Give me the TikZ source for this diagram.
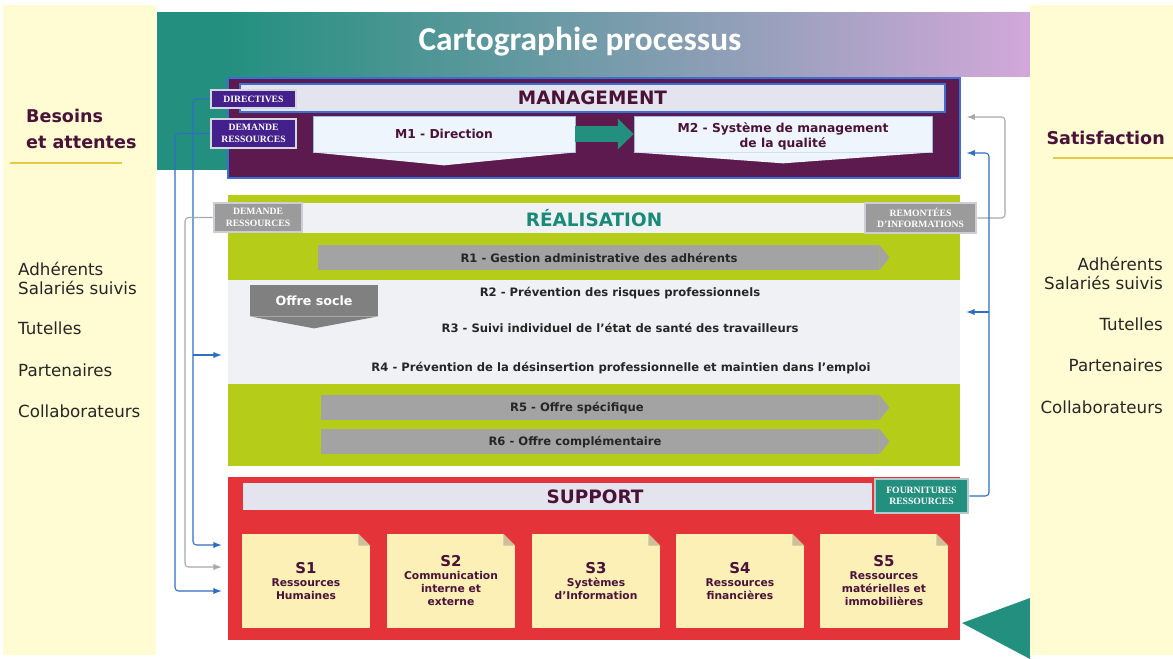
\documentclass[tikz,border=0pt]{standalone}
\usepackage{fontspec}
\setmainfont{DejaVu Sans}
\newfontfamily\titlefont{Carlito}
\newfontfamily\tagfont{Liberation Serif}
\usetikzlibrary{arrows, arrows.meta, positioning, fit, calc}

\definecolor{mgmtpurple}{HTML}{5C1A4F}
\definecolor{mgmtline}{HTML}{3B6FD4}
\definecolor{barlav}{HTML}{E4E4EE}
\definecolor{labindigo}{HTML}{43208C}
\definecolor{labframe}{HTML}{D6D6DE}
\definecolor{tealc}{HTML}{23907F}
\definecolor{tealtext}{HTML}{1A8A78}
\definecolor{lime}{HTML}{B5CD19}
\definecolor{procgrey}{HTML}{A3A3A3}
\definecolor{soclegrey}{HTML}{808080}
\definecolor{paleband}{HTML}{F0F1F5}
\definecolor{suppred}{HTML}{E5333A}
\definecolor{notecol}{HTML}{FCF0B6}
\definecolor{foldcol}{HTML}{CDBF9A}
\definecolor{sidecol}{HTML}{FFFBD2}
\definecolor{darkplum}{HTML}{4A1238}
\definecolor{lavender}{HTML}{D2A8DA}
\definecolor{flowblue}{HTML}{2F6DC4}
\definecolor{flowgrey}{HTML}{A8A8A8}
\definecolor{goldline}{HTML}{E6C84A}
\definecolor{mboxfill}{HTML}{EEF5FC}

\begin{document}
\begin{tikzpicture}[
    x = 0.02cm,
    y = -0.02cm,
    >=latex,
    mgmtbox/.style  = {fill=mgmtpurple, draw=mgmtline, line width=0.8pt, inner sep=0pt},
    headbar/.style  = {fill=barlav, draw=mgmtline, line width=0.8pt, inner sep=0pt},
    headtext/.style = {font=\bfseries\fontsize{10.5}{12}\selectfont, text=darkplum},
    tag/.style      = {draw=labframe, line width=1.5pt, fill=labindigo, inner sep=0pt},
    tagtext/.style  = {text=white, align=center, inner sep=0pt,
                       font=\tagfont\bfseries\fontsize{5.5}{6.6}\selectfont},
    greytag/.style  = {fill=procgrey!95!black, draw=labframe!90!gray},
    tealtag/.style  = {fill=tealc, draw=labframe!80!tealc},
    mproc/.style    = {fill=mboxfill, draw=mgmtline!50, line width=0.4pt, inner sep=0pt},
    mtext/.style    = {align=center, text=darkplum,
                       font=\bfseries\fontsize{7}{8.6}\selectfont},
    greenbox/.style = {fill=lime, inner sep=0pt},
    band/.style     = {fill=paleband, inner sep=0pt},
    proc/.style     = {fill=procgrey, inner sep=0pt},
    proctext/.style = {font=\bfseries\fontsize{6.6}{8}\selectfont, text=black!85},
    socle/.style    = {fill=soclegrey, inner sep=0pt},
    socletext/.style = {text=white, font=\bfseries\fontsize{7.2}{8}\selectfont},
    redbox/.style   = {fill=suppred, inner sep=0pt},
    note/.style     = {fill=notecol, inner sep=0pt},
    notetext/.style = {align=center, text=darkplum,
                       font=\bfseries\fontsize{6.1}{7.4}\selectfont},
    sidehead/.style = {font=\bfseries\fontsize{10}{14.7}\selectfont, text=darkplum},
    sidelist/.style = {font=\fontsize{9.5}{10.8}\selectfont, text=black!85},
    flow/.style     = {->, draw=flowblue, line width=0.6pt, rounded corners=2pt,
                       shorten >=3.5pt},
    backflow/.style = {flow, draw=flowgrey},
    ]

    \useasboundingbox (0,0) rectangle (1173,659);
    \fill[white] (0,0) rectangle (1173,659);

    % background: title band, side columns
    \fill[tealc] (157,12) rectangle (229,170);
    \shade[left color=tealc, right color=lavender] (228,12) rectangle (1030,76);
    \fill[tealc] (962,623) -- (1030,598) -- (1030,659) -- cycle;
    \fill[sidecol] (3,5) rectangle (156,655);
    \fill[sidecol] (1030,5) rectangle (1173,655);
    \draw[goldline, line width=1pt] (10,163) -- (122,163);
    \draw[goldline, line width=1pt] (1053,158) -- (1173,158);

    \node[font=\titlefont\bfseries\fontsize{19}{22}\selectfont, text=white] (title) at (580,42) {Cartographie processus};

    % left column
    \node[sidehead, anchor=west, align=left] (needs) at (20,129) {Besoins\\et attentes};
    \node[sidelist, anchor=west, align=left] (adhL) at (12,278) {Adhérents\\Salariés suivis};
    \node[sidelist, anchor=west] (tutL) at (12,328) {Tutelles};
    \node[sidelist, anchor=west] (parL) at (12,370) {Partenaires};
    \node[sidelist, anchor=west] (colL) at (12,411) {Collaborateurs};

    % right column
    \node[sidehead, anchor=east] (satisf) at (1171,138) {Satisfaction};
    \node[sidelist, anchor=east, align=right] (adhR) at (1169,273) {Adhérents\\Salariés suivis};
    \node[sidelist, anchor=east] (tutR) at (1169,324) {Tutelles};
    \node[sidelist, anchor=east] (parR) at (1169,365) {Partenaires};
    \node[sidelist, anchor=east] (colR) at (1169,407) {Collaborateurs};

    % management
    \node[mgmtbox, fit={(228,78) (960,178)}] (mgmt) {};
    \node[headbar, fit={(240,84) (945,112)}] (mgmthead) {};
    \node[headtext] (mgmttitle) at (mgmthead) {MANAGEMENT};
    \node[tag, fit={(211,90) (296,108)}] (dir) {};
    \node[tagtext] (dirtxt) at (dir) {DIRECTIVES};
    \node[tag, fit={(211,119) (296,148)}] (dem) {};
    \node[tagtext] (demtxt) at (dem) {DEMANDE\\RESSOURCES};

    \node[mproc, fit={(313,116) (575,152)}] (m1) {};
    \fill[mboxfill] (m1.south west) -- ($(m1.south)+(0,13)$) -- (m1.south east) -- cycle;
    \node[mtext] (m1txt) at (m1) {M1 - Direction};
    \node[mproc, fit={(634,116) (932,152)}] (m2) {};
    \fill[mboxfill] (m2.south west) -- ($(m2.south)+(0,11)$) -- (m2.south east) -- cycle;
    \node[mtext] (m2txt) at ($(m2)+(0,2)$) {M2 - Système de management\\de la qualité};
    \draw[tealc, line width=9pt, -{Triangle[length=9pt, width=17pt]}] (m1.east) -- (m2.west);

    % realisation
    \node[greenbox, fit={(228,195) (960,466)}] (real) {};
    \node[band, fit={(228,203) (960,233)}] (realhead) {};
    \node[headtext, text=tealtext] (realtitle) at (realhead) {RÉALISATION};
    \node[band, fit={(228,280) (960,384)}] (socleband) {};
    \node[tag, greytag, fit={(214,203) (302,232)}] (demR) {};
    \node[tagtext] (demRtxt) at (demR) {DEMANDE\\RESSOURCES};
    \node[tag, greytag, fit={(865,203) (976,233)}] (rem) {};
    \node[tagtext] (remtxt) at (rem) {REMONTÉES\\D’INFORMATIONS};

    \foreach \n/\ya/\xl/\xt/\txt in {1/245/318/599/{R1 - Gestion administrative des adhérents},
                                      5/395/321/577/{R5 - Offre spécifique},
                                      6/429/321/575/{R6 - Offre complémentaire}}
    {
        \node[proc, fit={(\xl,\ya) (879,\ya+25)}] (r\n) {};
        \fill[procgrey] (r\n.north east) -- ($(r\n.east)+(10,0)$) -- (r\n.south east) -- cycle;
        \node[proctext] (rtxt\n) at (\xt,\ya+13) {\txt};
    }
    \node[proctext] (r2) at (620,293) {R2 - Prévention des risques professionnels};
    \node[proctext] (r3) at (620,328) {R3 - Suivi individuel de l’état de santé des travailleurs};
    \node[proctext] (r4) at (621,368) {R4 - Prévention de la désinsertion professionnelle et maintien dans l’emploi};

    \node[socle, fit={(250,285) (378,316)}] (socle) {};
    \fill[soclegrey] (socle.south west) -- ($(socle.south)+(0,12)$) -- (socle.south east) -- cycle;
    \node[socletext] (socletxt) at (socle) {Offre socle};

    % support
    \node[redbox, fit={(228,477) (960,640)}] (supp) {};
    \node[band, fill=barlav, fit={(243,483) (872,510)}] (supphead) {};
    \node[headtext] (supptitle) at (595,497) {SUPPORT};
    \node[tag, tealtag, fit={(875,479) (968,513)}] (fourn) {};
    \node[tagtext] (fourntxt) at (fourn) {FOURNITURES\\RESSOURCES};

    \foreach \i/\x/\txt in {1/242/{Ressources\\Humaines},
                            2/387/{Communication\\interne et\\externe},
                            3/532/{Systèmes\\d’Information},
                            4/676/{Ressources\\financières},
                            5/820/{Ressources\\matérielles et\\immobilières}}
    {
        \node[note, fit={(\x,534) (\x+128,628)}] (s\i) {};
        \fill[suppred] (s\i.north east) -- ++(-12,0) -- ++(12,12) -- cycle;
        \fill[foldcol] (s\i.north east) ++(-12,0) -- ++(0,12) -- ++(12,0) -- cycle;
        \node[notetext] (stxt\i) at (s\i) {{\fontsize{8.5}{9.5}\selectfont S\i}\\\txt};
    }

    % flows on the left
    \coordinate (dirbend) at (193,545);
    \coordinate (dirsplit) at (193,355);
    \coordinate (dembend) at (175,591);
    \coordinate (demRbend) at (185,567);
    \draw[flow] (dir.west) -| (dirbend) -- (supp.west |- dirbend);
    \draw[flow] (dirsplit) -- (real.west |- dirsplit);
    \draw[flow] (dem.west) -| (dembend) -- (supp.west |- dembend);
    \draw[backflow] (demR.west) -| (demRbend) -- (supp.west |- demRbend);

    % flows on the right
    \coordinate (rembend) at (1005,117);
    \coordinate (fournbend) at (989,153);
    \coordinate (fournsplit) at (989,312);
    \draw[backflow] (rem.east) -| (rembend) -- (mgmt.east |- rembend);
    \draw[flow] (fourn.east) -| (fournbend) -- (mgmt.east |- fournbend);
    \draw[flow] (fournsplit) -- (real.east |- fournsplit);
\end{tikzpicture}
\end{document}
